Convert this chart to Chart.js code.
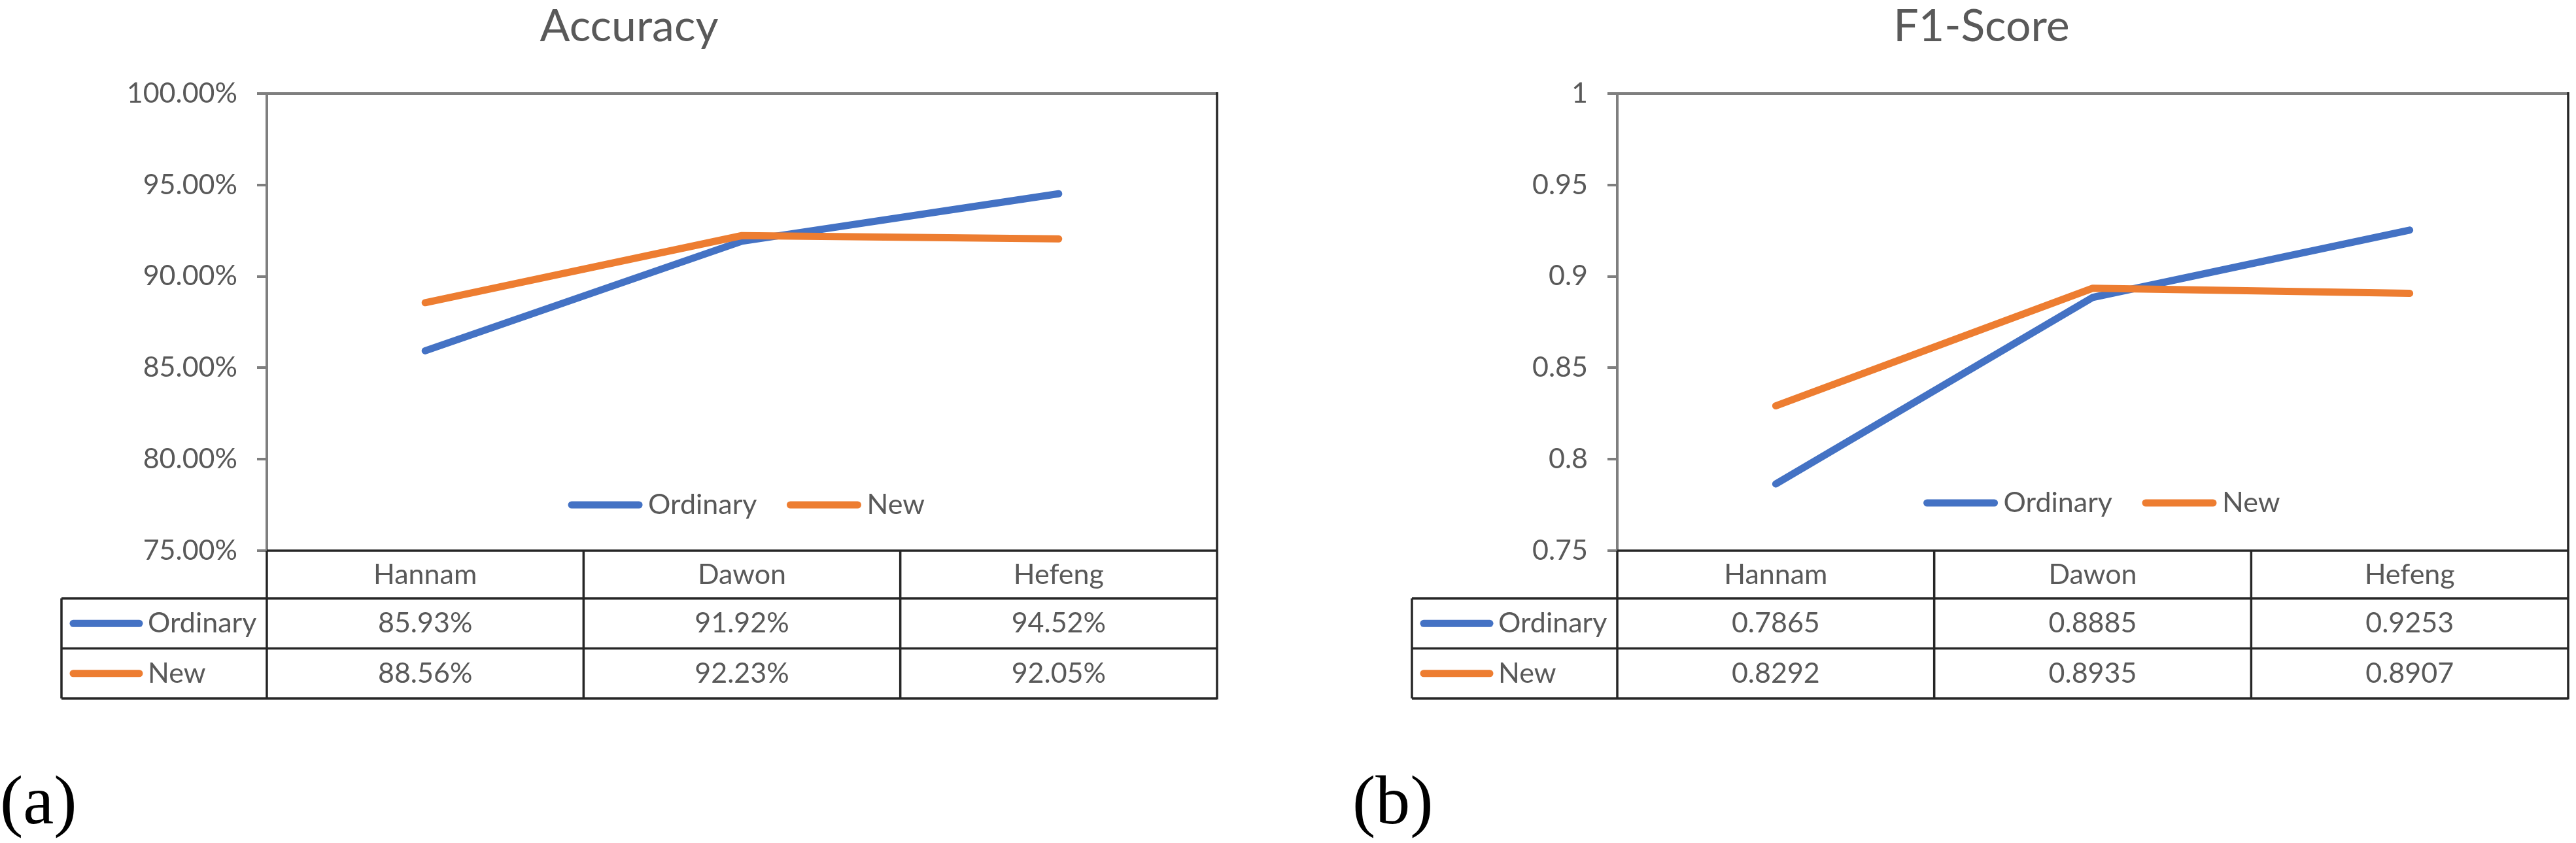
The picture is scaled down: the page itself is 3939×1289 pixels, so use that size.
<!DOCTYPE html>
<html>
<head>
<meta charset="utf-8">
<script src="https://cdn.jsdelivr.net/npm/chart.js@4.4.1/dist/chart.umd.min.js"></script>
<style>
  html, body { margin: 0; padding: 0; background: #fff; }
  body { width: 3939px; height: 1289px; position: relative; overflow: hidden; }
  .box { position: absolute; top: 0; height: 1100px; }
  .tag { position: absolute; top: 1171px; font: 106px/1 "Liberation Serif", "Times New Roman", serif; color: #000; }
</style>
</head>
<body>
<div class="box" style="left:0; width:1900px;"><canvas id="accChart"></canvas></div>
<div class="box" style="left:1950px; width:1989px;"><canvas id="f1Chart"></canvas></div>
<div class="tag" style="left:0;">(a)</div>
<div class="tag" style="left:2068px;">(b)</div>

<script>
// data
const categories = ["Hannam", "Dawon", "Hefeng"];
const seriesNames = ["Ordinary", "New"];
const accOrdinary = [85.93, 91.92, 94.52];
const accNew = [88.56, 92.23, 92.05];
const f1Ordinary = [0.7865, 0.8885, 0.9253];
const f1New = [0.8292, 0.8935, 0.8907];
const accAxis = [75, 100, 5];      // min, max, step
const f1Axis = [0.75, 1, 0.05];

const BLUE = "#4472C4";
const ORANGE = "#ED7D31";
const TEXT = "#595959";
const FONT_FAMILY = "Lato, 'Open Sans', sans-serif";
const FONT_SIZE = 43;

// legend drawn inside the plot, near its bottom
const plotLegend = {
    id: "plotLegend",
    afterDatasetsDraw(chart, args, opts) {
        const { ctx, chartArea } = chart;
        ctx.save();
        ctx.font = FONT_SIZE + "px " + FONT_FAMILY;
        const lineLen = 113, gap = 9, itemGap = 46;
        const items = chart.data.datasets.map(ds => ({
            ds: ds,
            w: lineLen + gap + ctx.measureText(ds.label).width
        }));
        const total = items.reduce((s, it) => s + it.w, 0) + itemGap * (items.length - 1);
        let x = (chartArea.left + chartArea.right) / 2 - total / 2 + opts.shiftX;
        const y = chartArea.bottom - opts.fromBottom;
        items.forEach(it => {
            ctx.strokeStyle = it.ds.borderColor;
            ctx.lineWidth = 11;
            ctx.lineCap = "round";
            ctx.beginPath();
            ctx.moveTo(x + 5, y);
            ctx.lineTo(x + lineLen - 5, y);
            ctx.stroke();
            ctx.fillStyle = TEXT;
            ctx.textAlign = "left";
            ctx.textBaseline = "middle";
            ctx.fillText(it.ds.label, x + lineLen + gap, y);
            x += it.w + itemGap;
        });
        ctx.restore();
    }
};

// data table under the plot (header row = x-axis tick labels)
const dataTable = {
    id: "dataTable",
    afterDraw(chart, args, opts) {
        const { ctx, chartArea } = chart;
        const xs = chart.scales.x;
        const n = chart.data.labels.length;
        const header = opts.header, rowH = opts.rowH;
        const tableLeft = chartArea.left - opts.labelCol;
        const top = chartArea.bottom;
        const rowsTop = top + header;
        const end = rowsTop + rowH * chart.data.datasets.length;

        ctx.save();
        // plot frame: top edge grey
        ctx.strokeStyle = "#7f7f7f";
        ctx.lineWidth = 4;
        ctx.beginPath();
        ctx.moveTo(chartArea.left - 15, chartArea.top);
        ctx.lineTo(chartArea.right, chartArea.top);
        ctx.stroke();

        ctx.strokeStyle = "#262626";
        ctx.lineWidth = 3.5;
        ctx.beginPath();
        // horizontal lines
        ctx.moveTo(chartArea.left, top);
        ctx.lineTo(chartArea.right, top);
        for (let r = 0; r <= chart.data.datasets.length; r++) {
            ctx.moveTo(tableLeft, rowsTop + r * rowH);
            ctx.lineTo(chartArea.right, rowsTop + r * rowH);
        }
        // vertical lines
        ctx.moveTo(tableLeft, rowsTop);
        ctx.lineTo(tableLeft, end);
        ctx.moveTo(chartArea.left, top);
        ctx.lineTo(chartArea.left, end);
        for (let i = 1; i < n; i++) {
            const bx = (xs.getPixelForValue(i - 1) + xs.getPixelForValue(i)) / 2;
            ctx.moveTo(bx, top);
            ctx.lineTo(bx, end);
        }
        ctx.moveTo(chartArea.right, chartArea.top - 2);
        ctx.lineTo(chartArea.right, end + 1.5);
        ctx.stroke();

        // rows
        ctx.font = FONT_SIZE + "px " + FONT_FAMILY;
        ctx.textBaseline = "middle";
        chart.data.datasets.forEach((ds, r) => {
            const cy = rowsTop + r * rowH + rowH / 2;
            ctx.strokeStyle = ds.borderColor;
            ctx.lineWidth = 11;
            ctx.lineCap = "round";
            ctx.beginPath();
            ctx.moveTo(tableLeft + 18, cy);
            ctx.lineTo(tableLeft + 119, cy);
            ctx.stroke();
            ctx.fillStyle = TEXT;
            ctx.textAlign = "left";
            ctx.fillText(ds.label, tableLeft + 132, cy);
            ctx.textAlign = "center";
            ds.data.forEach((v, i) => {
                ctx.fillText(opts.format(v), xs.getPixelForValue(i), cy);
            });
        });
        ctx.restore();
    }
};

function makeChart(id, title, ordinary, fresh, axis, fmtTick, fmtCell, pad, yWidth, legendShift, legendUp) {
    return new Chart(document.getElementById(id), {
        type: "line",
        data: {
            labels: categories,
            datasets: [
                { label: seriesNames[0], data: ordinary, borderColor: BLUE, backgroundColor: BLUE, order: 2 },
                { label: seriesNames[1], data: fresh, borderColor: ORANGE, backgroundColor: ORANGE, order: 1 }
            ]
        },
        options: {
            responsive: true,
            maintainAspectRatio: false,
            devicePixelRatio: 1,
            animation: false,
            layout: { padding: pad },
            elements: {
                line: { borderWidth: 11, tension: 0, borderCapStyle: "round", borderJoinStyle: "round" },
                point: { radius: 0, hoverRadius: 0 }
            },
            plugins: {
                legend: { display: false },
                tooltip: { enabled: false },
                title: {
                    display: true,
                    text: title,
                    color: TEXT,
                    font: { family: FONT_FAMILY, size: 68, weight: "normal" },
                    padding: { top: 0, bottom: 61.4 }
                },
                plotLegend: { shiftX: legendShift, fromBottom: legendUp },
                dataTable: { header: 73, rowH: 76.5, labelCol: 314, format: fmtCell }
            },
            scales: {
                x: {
                    type: "category",
                    offset: true,
                    grid: { display: false, drawTicks: false },
                    border: { display: false },
                    ticks: {
                        color: TEXT,
                        padding: 11,
                        maxRotation: 0,
                        font: { family: FONT_FAMILY, size: FONT_SIZE }
                    },
                    afterFit: s => { s.height = 226; }
                },
                y: {
                    min: axis[0],
                    max: axis[1],
                    grid: {
                        drawOnChartArea: false,
                        drawTicks: true,
                        tickLength: 15,
                        color: "#7f7f7f",
                        lineWidth: 4
                    },
                    border: { display: true, color: "#7f7f7f", width: 4 },
                    ticks: {
                        stepSize: axis[2],
                        color: TEXT,
                        padding: 30,
                        font: { family: FONT_FAMILY, size: FONT_SIZE },
                        callback: fmtTick
                    },
                    afterFit: s => { s.width = yWidth; }
                }
            }
        },
        plugins: [plotLegend, dataTable]
    });
}

function draw() {
    makeChart("accChart", "Accuracy", accOrdinary, accNew, accAxis,
        v => Number(v).toFixed(2) + "%",
        v => v.toFixed(2) + "%",
        { left: 63, right: 39, top: 0, bottom: 32 }, 345, 7, 70);

    makeChart("f1Chart", "F1-Score", f1Ordinary, f1New, f1Axis,
        v => String(Number(Number(v).toFixed(2))),
        v => v.toFixed(4),
        { left: 183, right: 12, top: 0, bottom: 32 }, 340, 14, 73);
}

if (document.fonts && document.fonts.load) {
    Promise.all([
        document.fonts.load(FONT_SIZE + "px Lato"),
        document.fonts.load("106px 'Liberation Serif'")
    ]).then(draw, draw);
} else {
    draw();
}
</script>
</body>
</html>
